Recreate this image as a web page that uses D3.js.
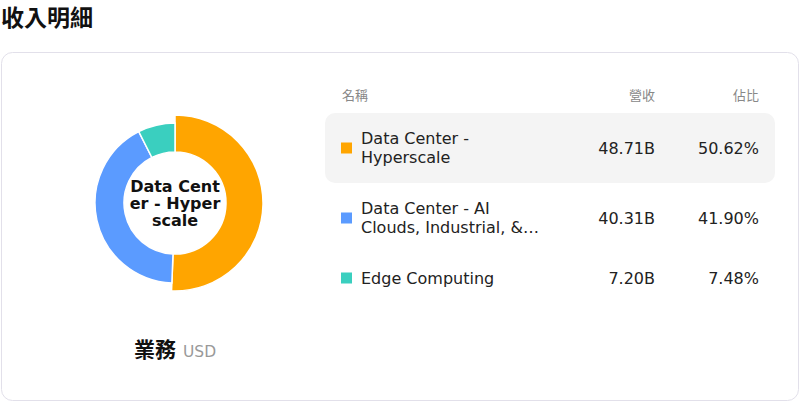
<!DOCTYPE html>
<html>
<head>
<meta charset="utf-8">
<script src="https://cdn.jsdelivr.net/npm/d3@7"></script>
<style>
  body { margin: 0; background: #fff; font-family: "DejaVu Sans", sans-serif; }
  svg { display: block; }
</style>
</head>
<body>
<svg id="chart" width="800" height="402" font-family="'DejaVu Sans', 'Noto Sans CJK TC', sans-serif"></svg>
<script>
// data
const names = ["Data Center - Hyperscale", "Data Center - AI Clouds, Industrial, & Enterprise", "Edge Computing"]
const revenue = [48.71, 40.31, 7.20]
const shares = ["50.62%", "41.90%", "7.48%"]
const colors = ["#ffa500", "#5b9bff", "#3acfbf"]
const headers = ["名稱", "營收", "佔比"]
const title = "收入明細"
const footLabel = "業務"
const currency = "USD"
const active = 0

const latin = "DejaVu Sans"
const cjk = "Noto Sans CJK TC"
const svg = d3.select("#chart")

// title
svg.append("text").attr("x", 1).attr("y", 26)
    .attr("font-size", 23).attr("font-weight", "bold")
    .attr("font-family", cjk).attr("fill", "#111")
    .text(title)

// card
svg.append("rect").attr("x", 1.5).attr("y", 52.5).attr("width", 797).attr("height", 348)
    .attr("rx", 11).attr("fill", "#fff").attr("stroke", "#e2e0ea")

// donut
const cx = 175, cy = 203
const pie = d3.pie().sort(null).value(d => d)
const arcs = pie(revenue)
const arc = d3.arc().innerRadius(51)
const g = svg.append("g").attr("transform", `translate(${cx},${cy})`)
g.selectAll("path").data(arcs).enter().append("path")
    .attr("d", (d, i) => arc.outerRadius(i === active ? 88 : 80)(d))
    .attr("fill", (d, i) => colors[i])
    .attr("stroke", "#fff").attr("stroke-width", 1.5)

// center label, wrapped by character
function charWrap(str, maxW, size) {
    let probe = svg.append("text").attr("font-family", latin).attr("font-size", size).attr("font-weight", "bold")
    let lines = [], cur = ""
    for (const ch of str) {
        probe.text(cur + ch)
        if (probe.node().getComputedTextLength() > maxW && cur) { lines.push(cur); cur = ch }
        else cur += ch
    }
    lines.push(cur)
    probe.remove()
    return lines
}
const centerLines = charWrap(names[active], 94, 16)
g.append("text").attr("text-anchor", "middle").attr("font-size", 16)
    .attr("font-family", latin).attr("font-weight", "bold").attr("fill", "#111")
    .selectAll("tspan").data(centerLines).enter().append("tspan")
    .attr("x", 0).attr("y", (d, i) => (i - (centerLines.length - 1) / 2) * 17 + 5.5)
    .text(d => d)

// footer label
const foot = svg.append("text").attr("x", 134).attr("y", 357)
foot.append("tspan").attr("font-size", 21).attr("font-weight", "bold")
    .attr("font-family", cjk).attr("fill", "#111").text(footLabel)
foot.append("tspan").attr("dx", 7).attr("font-size", 15.5).attr("font-family", latin)
    .attr("fill", "#999").text(currency)

// table
const colName = 342, colRev = 655, colShare = 759
const head = svg.append("g").attr("font-size", 13).attr("fill", "#888")
    .attr("font-family", cjk)
head.append("text").attr("x", colName).attr("y", 100).text(headers[0])
head.append("text").attr("x", colRev).attr("y", 100).attr("text-anchor", "end").text(headers[1])
head.append("text").attr("x", colShare).attr("y", 100).attr("text-anchor", "end").text(headers[2])

function wordWrap(str, maxW, maxLines) {
    let probe = svg.append("text").attr("font-family", latin).attr("font-size", 16)
    const fits = s => { probe.text(s); return probe.node().getComputedTextLength() <= maxW }
    let words = str.split(" "), lines = [], cur = ""
    for (let k = 0; k < words.length; k++) {
        const t = cur ? cur + " " + words[k] : words[k]
        if (fits(t) || !cur) cur = t
        else {
            lines.push(cur); cur = words[k]
            if (lines.length === maxLines) { cur = null; break }
        }
    }
    if (cur !== null) lines.push(cur)
    if (lines.length > maxLines || cur === null) {
        lines = lines.slice(0, maxLines)
        lines[maxLines - 1] = lines[maxLines - 1] + "…"
    }
    probe.remove()
    return lines
}

let y = 113
names.forEach((name, i) => {
    const lines = wordWrap(name, 185, 2)
    const h = lines.length > 1 ? 70 : 50
    const mid = y + h / 2
    const row = svg.append("g").attr("font-family", latin)
    if (i === active) {
        row.append("rect").attr("x", 325).attr("y", y).attr("width", 450).attr("height", h)
            .attr("rx", 10).attr("fill", "#f4f4f4")
    }
    row.append("rect").attr("x", 341).attr("y", mid - 5.5).attr("width", 11).attr("height", 11)
        .attr("fill", colors[i])
    row.append("text").attr("font-size", 16).attr("fill", "#222")
        .selectAll("tspan").data(lines).enter().append("tspan")
        .attr("x", 361).attr("y", (d, k) => mid + 5.5 + (k - (lines.length - 1) / 2) * 19.5)
        .text(d => d)
    row.append("text").attr("x", colRev).attr("y", mid + 6).attr("text-anchor", "end")
        .attr("font-size", 16).attr("fill", "#222").text(d3.format(".2f")(revenue[i]) + "B")
    row.append("text").attr("x", colShare).attr("y", mid + 6).attr("text-anchor", "end")
        .attr("font-size", 16).attr("fill", "#222").text(shares[i])
    y += h
})
</script>
</body>
</html>
